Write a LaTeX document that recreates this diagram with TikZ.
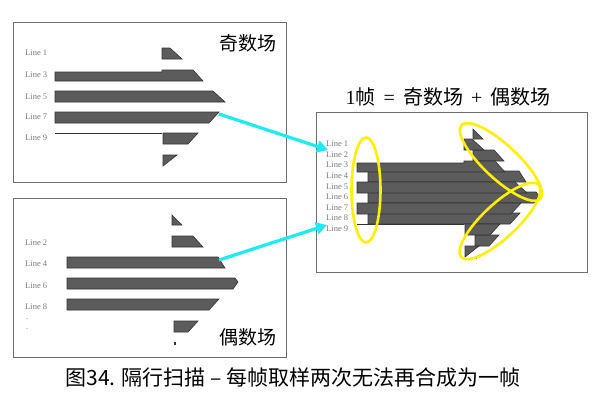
\documentclass[tikz,border=0pt]{standalone}
\usepackage{fontspec}
\setmainfont{Liberation Serif}
\newfontfamily\cjk{Noto Sans CJK SC}
\usetikzlibrary{arrows.meta,shapes.geometric}
\definecolor{barfill}{HTML}{5C5C5C}
\definecolor{bardraw}{HTML}{333333}
\definecolor{boxgray}{HTML}{6E6E6E}
\definecolor{lblgray}{HTML}{7A7A7A}
\definecolor{ylw}{HTML}{FFF000}
\definecolor{cyn}{HTML}{1EEAF2}
\tikzset{
  barshape/.style={fill=barfill,draw=bardraw,line width=0.6pt,line join=miter},
  thinl/.style={draw=bardraw,line width=0.6pt},
  boxline/.style={draw=boxgray,line width=0.9pt,fill=white},
  linelabel/.style={anchor=west,inner sep=0pt,text=lblgray,font=\fontsize{8.5}{9}\selectfont},
  fieldlabel/.style={inner sep=0pt,font=\cjk\fontsize{19}{20}\selectfont},
  ring/.style={draw=ylw,line width=2.6pt,ellipse,inner sep=0pt},
  cyanarrow/.style={draw=cyn,line width=3.2pt,-{Triangle[length=11pt,width=12pt]}}
}
\newcommand{\oddbars}{%
  \draw[barshape] (162,48)--(170,48)--(182,59)--(162,59)--cycle;
  \draw[barshape] (55,72)--(162,72)--(162,70)--(193,70)--(203,81)--(55,81)--cycle;
  \draw[barshape] (55,91)--(213,91)--(225,102)--(55,102)--cycle;
  \draw[barshape] (55,112)--(219,112)--(209,123)--(55,123)--cycle;
  \draw[thinl] (55,133)--(162,133);
  \draw[barshape] (163,133)--(198,133)--(188,144)--(163,144)--cycle;
  \draw[barshape] (163,155)--(177,155)--(163,166)--cycle;
}
\newcommand{\evenbars}{%
  \draw[barshape] (172,215)--(182,225)--(172,225)--cycle;
  \draw[barshape] (172,236)--(193,236)--(203,247)--(172,247)--cycle;
  \draw[barshape] (67,257)--(218,257)--(225,268)--(67,268)--cycle;
  \draw[barshape] (67,278)--(235,278)--(238,282)--(233,289)--(67,289)--cycle;
  \draw[barshape] (67,299)--(219,299)--(209,310)--(67,310)--cycle;
  \draw[barshape] (174,321)--(198,321)--(188,332)--(174,332)--cycle;
  \fill[bardraw] (174,342) rectangle (176,345);
}
\begin{document}
\begin{tikzpicture}[x=1pt,y=-1pt]
\useasboundingbox[fill=white] (0,0) rectangle (600,407);
% boxes
\draw[boxline] (13,22) rectangle (286,182);
\draw[boxline] (13,198) rectangle (286,357);
\draw[boxline] (316,112) rectangle (587,272);
% odd field
\oddbars
\foreach \n/\y in {1/53,3/75,5/97,7/117,9/138}
  \node[linelabel] (ol\n) at (25,\y) {Line \n};
\node[fieldlabel] (oddtitle) at (248,43) {奇数场};
% even field
\evenbars
\foreach \n/\y in {2/243,4/264,6/286,8/307}
  \node[linelabel] (el\n) at (25,\y) {Line \n};
\node[linelabel] (ed1) at (26,319) {.};
\node[linelabel] (ed2) at (26,329) {.};
\node[fieldlabel] (eventitle) at (248,337) {偶数场};
% combined frame
\begin{scope}[shift={(301,-86)}]\evenbars\end{scope}
\begin{scope}[shift={(302,91)}]\oddbars\end{scope}
\foreach \n in {1,...,9}
  \node[linelabel] (cl\n) at (326,{144+(\n-1)*10.6}) {Line \n};
\node[inner sep=0pt,font=\fontsize{20}{21}\selectfont] (frametitle) at (448,97)
  {1{\cjk 帧}\hspace{0.4em}=\hspace{0.4em}{\cjk 奇数场}\hspace{0.4em}+\hspace{0.4em}{\cjk 偶数场}};
% rings
\node[ring,minimum width=29pt,minimum height=105pt] (ringL) at (366,190) {};
\node[ring,minimum width=108pt,minimum height=34pt,rotate=-43] (ringU) at (501,162) {};
\node[ring,minimum width=106pt,minimum height=34pt,rotate=43] (ringD) at (500,221) {};
% connectors
\coordinate (o7end) at (219,114);
\coordinate (e4end) at (219,260);
\coordinate (tgt2) at (328,150);
\coordinate (tgt8) at (327,225);
\draw[cyanarrow] (o7end) -- (tgt2);
\draw[cyanarrow] (e4end) -- (tgt8);
% caption
\node[inner sep=0pt,font=\cjk\fontsize{21}{22}\selectfont] (caption) at (293,378)
  {图34. 隔行扫描 – 每帧取样两次无法再合成为一帧};
\end{tikzpicture}
\end{document}
